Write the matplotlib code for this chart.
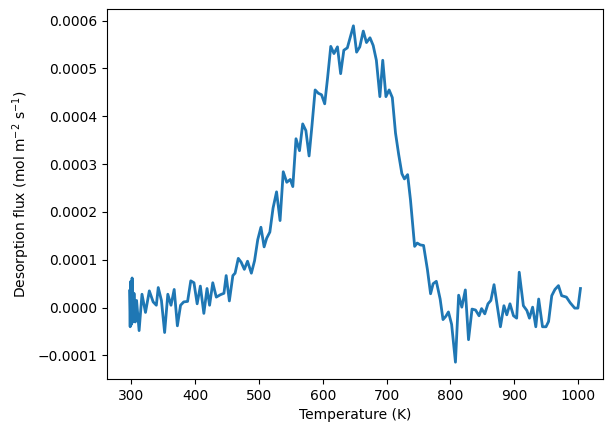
import matplotlib
matplotlib.use('Agg')
import matplotlib.pyplot as plt
import numpy as np

# Temperature (K)
temperature = [
    297, 298, 299, 300, 301, 302.5, 304, 306, 308, 312,
    316.5, 322, 328, 334, 339, 342, 347, 352, 357, 362,
    367, 372, 377, 382, 388, 393, 398, 403, 408, 413.5,
    418.5, 422.5, 427.5, 433, 439.5, 445, 448.5, 453.5, 459, 462.5,
    467.5, 472, 477, 482, 488, 493, 498, 503, 508, 512,
    517, 522, 527.5, 533, 538, 543.5, 549, 553, 558, 563.5,
    568.5, 573.5, 578.5, 583, 588, 593, 598, 603, 607.5, 612.5,
    617.5, 623, 628, 633, 638.5, 648, 653, 658, 663.5, 668.5,
    674, 679, 684, 689.5, 694, 699, 704, 709, 714, 719,
    724, 728, 733, 737.5, 744, 748, 753, 758, 764, 769,
    773, 778, 784, 788.5, 793, 797, 802, 808, 813, 818,
    823.5, 828.5, 834, 839.5, 845, 849, 854, 859, 863.5, 868.5,
    878.5, 884, 888.5, 893.5, 899, 904, 908, 914.5, 920, 924,
    929, 934, 938.5, 944.5, 950, 954, 959, 964, 969.5, 974.5,
    982, 988, 995, 1000, 1004,
]

# Desorption flux in units of 1e-4 mol m^-2 s^-1
flux_e4 = [
    0.35, -0.40, 0.55, -0.35, 0.62, -0.30, 0.30, -0.30, 0.15, -0.48,
    0.28, -0.10, 0.35, 0.12, 0.05, 0.42, 0.15, -0.52, 0.28, 0.05,
    0.38, -0.38, 0.05, 0.12, 0.13, 0.56, 0.52, 0.08, 0.45, -0.12,
    0.40, 0.05, 0.52, 0.22, 0.27, 0.30, 0.67, 0.14, 0.67, 0.72,
    1.03, 0.95, 0.80, 0.97, 0.72, 0.98, 1.42, 1.68, 1.27, 1.45,
    1.58, 2.08, 2.42, 1.82, 2.84, 2.62, 2.68, 2.53, 3.53, 3.28,
    3.84, 3.70, 3.17, 3.80, 4.55, 4.48, 4.45, 4.26, 4.80, 5.46,
    5.31, 5.45, 4.89, 5.38, 5.43, 5.89, 5.34, 5.45, 5.78, 5.54,
    5.64, 5.48, 5.17, 4.41, 5.17, 4.41, 4.55, 4.39, 3.65, 3.20,
    2.80, 2.69, 2.78, 2.25, 1.28, 1.35, 1.31, 1.30, 0.80, 0.29,
    0.50, 0.55, 0.18, -0.25, -0.18, -0.09, -0.35, -1.14, 0.26, 0.01,
    0.37, -0.67, -0.03, -0.05, -0.17, -0.02, -0.13, 0.08, 0.15, 0.48,
    -0.40, 0.04, -0.15, 0.08, -0.17, -0.22, 0.74, 0.04, -0.06, -0.22,
    0.01, -0.40, 0.18, -0.40, -0.40, -0.29, 0.25, 0.38, 0.46, 0.25,
    0.22, 0.10, -0.01, -0.01, 0.40,
]

flux = np.array(flux_e4) * 1e-4

fig = plt.figure(figsize=(6.13, 4.32), dpi=100)
ax = fig.add_axes([107 / 613, 53 / 432, 496 / 613, 370 / 432])

ax.plot(temperature, flux, linewidth=2)

ax.set_xlabel('Temperature (K)')
ax.set_ylabel('Desorption flux (mol m$^{-2}$ s$^{-1}$)')

fig.savefig('out.png', dpi=100)
